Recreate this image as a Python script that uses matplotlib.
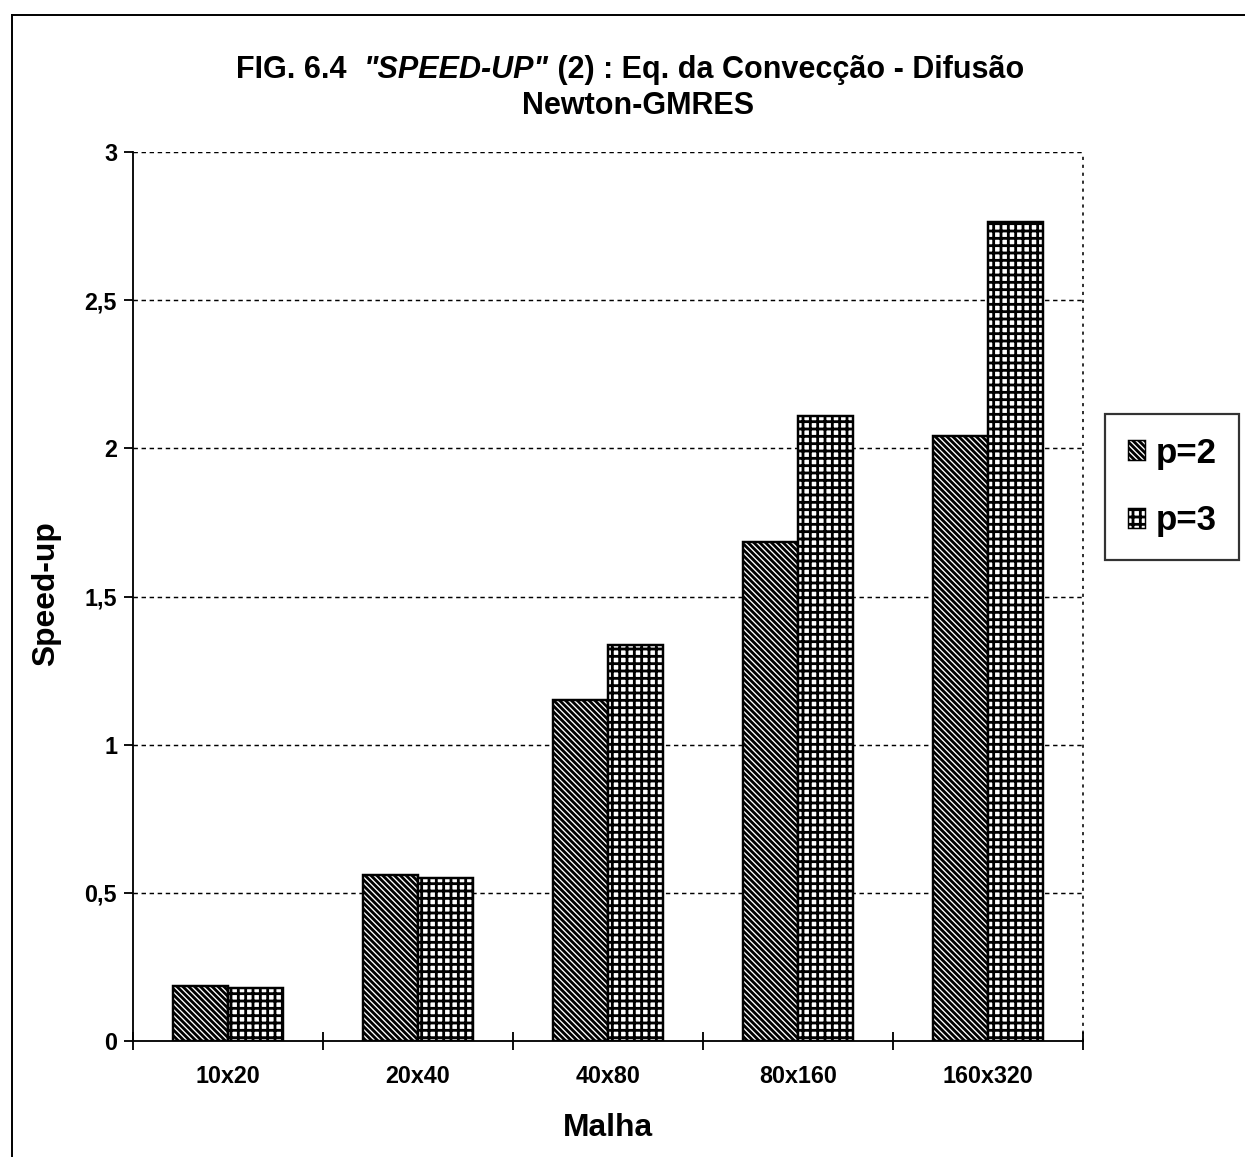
import matplotlib
matplotlib.use("Agg")
import matplotlib.pyplot as plt
import numpy as np
from matplotlib.lines import Line2D
from matplotlib.patches import Patch

# data
malhas = ["10x20", "20x40", "40x80", "80x160", "160x320"]
speedup_p2 = [0.185, 0.56, 1.15, 1.685, 2.04]
speedup_p3 = [0.178, 0.55, 1.335, 2.11, 2.765]
series_labels = ["p=2", "p=3"]
yticks = [0, 0.5, 1, 1.5, 2, 2.5, 3]
ytick_labels = ["0", "0,5", "1", "1,5", "2", "2,5", "3"]

W, H, DPI = 1245, 1157, 88
plt.rcParams["font.family"] = ["Liberation Sans", "DejaVu Sans"]
plt.rcParams["font.weight"] = "bold"
plt.rcParams["hatch.linewidth"] = 2.3

HATCH_P2 = "\\" * 5
HATCH_P3 = "++"

def px(x, y):
    return x / W, 1 - y / H

fig = plt.figure(figsize=(W / DPI, H / DPI), dpi=DPI)
ax = fig.add_axes([133 / W, 1 - 1041 / H, 950 / W, 889 / H])

x = np.arange(len(malhas))
bw = 0.29
ax.bar(x - bw / 2, speedup_p2, bw, color="white", edgecolor="black",
       linewidth=2, hatch=HATCH_P2, zorder=3)
ax.bar(x + bw / 2, speedup_p3, bw, color="white", edgecolor="black",
       linewidth=2, hatch=HATCH_P3, zorder=3)

ax.set_xlim(-0.5, len(malhas) - 0.5)
ax.set_ylim(0, 3)
ax.set_yticks(yticks)
ax.set_yticklabels(ytick_labels, fontsize=19, fontweight="bold")
ax.set_xticks(np.arange(len(malhas) + 1) - 0.5)
ax.set_xticklabels([])
ax.set_xticks(x, minor=True)
ax.set_xticklabels(malhas, minor=True, fontsize=19, fontweight="bold")
ax.tick_params(axis="x", which="major", direction="inout", length=14, width=1.5)
ax.tick_params(axis="x", which="minor", length=0, pad=20)
ax.tick_params(axis="y", direction="out", length=7, width=1.5, pad=6)

for y in yticks[1:]:
    ax.axhline(y, color="black", linestyle=(0, (3, 2.5)), linewidth=1.2, zorder=1)
ax.spines["top"].set_visible(False)
ax.spines["right"].set_linestyle((0, (1, 4)))
ax.spines["right"].set_linewidth(1.3)
ax.spines["left"].set_linewidth(1.5)
ax.spines["bottom"].set_linewidth(1.5)

fig.text(*px(608, 1128), "Malha", ha="center", va="center", fontsize=26, fontweight="bold")
fig.text(*px(46, 594), "Speed-up", ha="center", va="center", rotation=90,
         fontsize=26, fontweight="bold")

# title with the italic piece
pieces = [("FIG. 6.4  ", "normal"), ('"SPEED-UP"', "italic"),
          (" (2) : Eq. da Convecção - Difusão", "normal")]
renderer = fig.canvas.get_renderer()
texts = []
for s, st in pieces:
    t = fig.text(0, 1 - 78 / H, s, fontsize=25, fontweight="bold", style=st,
                 ha="left", va="baseline")
    texts.append(t)
widths = [t.get_window_extent(renderer).width for t in texts]
x0 = 630 - sum(widths) / 2
for t, w in zip(texts, widths):
    t.set_x(x0 / W)
    x0 += w
fig.text(*px(638, 114), "Newton-GMRES", fontsize=25, fontweight="bold",
         ha="center", va="baseline")

handles = [Patch(facecolor="white", edgecolor="black", hatch=HATCH_P2, linewidth=1.2),
           Patch(facecolor="white", edgecolor="black", hatch=HATCH_P3, linewidth=1.2)]
leg = fig.legend(handles, series_labels, loc="center left",
                 bbox_to_anchor=px(1105, 487), frameon=True, fancybox=False,
                 edgecolor="black", prop={"size": 28.5, "weight": "bold"},
                 handlelength=0.5, handleheight=0.5, handletextpad=0.3,
                 labelspacing=1.0, borderpad=0.65, borderaxespad=0)
leg.get_frame().set_linewidth(1.8)

# outer frame of the scanned chart area
fig.add_artist(Line2D([12 / W, 12 / W], [0, 1 - 15 / H], color="black", lw=1.6,
                      transform=fig.transFigure))
fig.add_artist(Line2D([12 / W, 1], [1 - 15 / H, 1 - 15 / H], color="black", lw=1.6,
                      transform=fig.transFigure))

fig.savefig("out.png", dpi=DPI)
